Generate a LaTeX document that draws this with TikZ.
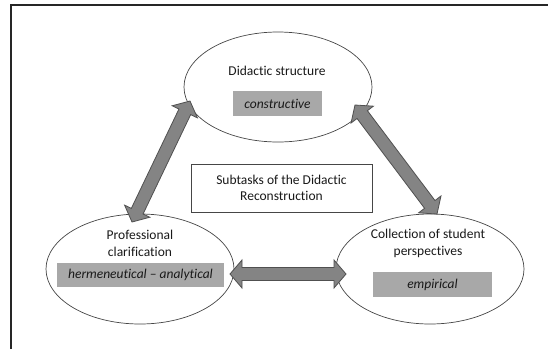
\documentclass[tikz,border=0pt]{standalone}
\usepackage{fontspec}
\setmainfont[Ligatures=NoCommon]{Carlito}
\usetikzlibrary{shapes.geometric,calc}
\definecolor{boxgray}{RGB}{168,168,168}
\definecolor{arrfill}{RGB}{132,132,132}
\definecolor{arrline}{RGB}{80,80,80}
\definecolor{ellline}{RGB}{70,70,70}
\definecolor{txt}{RGB}{25,25,25}
\tikzset{
  ell/.style={ellipse, draw=ellline, line width=0.7pt, minimum width=188pt, minimum height=110pt, inner sep=0pt},
  lbl/.style={text=txt, font=\fontsize{13.5}{17}\selectfont, align=center, inner sep=0pt},
  graybox/.style={fill=boxgray, text=txt, font=\fontsize{13.5}{17}\selectfont\itshape, inner sep=0pt},
  centerbox/.style={draw=ellline, line width=0.7pt, fill=white, minimum width=181pt, minimum height=48pt, text=txt, font=\fontsize{13.5}{16.5}\selectfont, align=center, inner sep=0pt},
  fatarrow/.style={fill=arrfill, draw=arrline, line width=0.8pt, line join=miter},
  frame/.style={draw=black!85, line width=1.3pt}
}
\newcommand{\fatarrowpath}[2]{%
  \filldraw[fatarrow] let \p1=($(#2)-(#1)$), \n1={veclen(\x1,\y1)}, \n2={atan2(\y1,\x1)} in
    ([shift={(#1)},rotate=\n2]0pt,0pt) -- ([shift={(#1)},rotate=\n2]12pt,14pt)
    -- ([shift={(#1)},rotate=\n2]12pt,6.5pt) -- ([shift={(#1)},rotate=\n2]\n1-12pt,6.5pt)
    -- ([shift={(#1)},rotate=\n2]\n1-12pt,14pt) -- ([shift={(#1)},rotate=\n2]\n1+0pt,0pt)
    -- ([shift={(#1)},rotate=\n2]\n1-12pt,-14pt) -- ([shift={(#1)},rotate=\n2]\n1-12pt,-6.5pt)
    -- ([shift={(#1)},rotate=\n2]12pt,-6.5pt) -- ([shift={(#1)},rotate=\n2]12pt,-14pt) -- cycle;}
\begin{document}
\begin{tikzpicture}[x=1pt,y=-1pt]
\useasboundingbox (0,0) rectangle (548,349);
\fill[white] (0,0) rectangle (548,349);
\draw[frame] (11,349) -- (11,5) -- (548,5);
% ellipses
\node[ell] (top) at (278,87) {};
\node[ell] (left) at (140,269) {};
\node[ell] (right) at (430,269) {};
% texts
\node[lbl] (toptxt) at (277,71) {Didactic structure};
\node[graybox, minimum width=89pt, minimum height=25pt] (topbox) at (277.5,103.5) {constructive};
\node[lbl] (lefttxt) at (140,243.5) {Professional\\clarification};
\node[graybox, minimum width=167pt, minimum height=24pt] (leftbox) at (140.5,275) {hermeneutical -- analytical};
\node[lbl] (righttxt) at (428,243.5) {Collection of student\\perspectives};
\node[graybox, minimum width=119pt, minimum height=25pt] (rightbox) at (432.5,284.5) {empirical};
\node[centerbox] (center) at (281.5,188) {Subtasks of the Didactic\\Reconstruction};
% arrow end points
\coordinate (a1) at (190,101);
\coordinate (b1) at (132,222);
\coordinate (a2) at (355,105);
\coordinate (b2) at (437,214);
\coordinate (a3) at (230,274);
\coordinate (b3) at (346,274);
\fatarrowpath{a1}{b1}
\fatarrowpath{a2}{b2}
\fatarrowpath{a3}{b3}
\end{tikzpicture}
\end{document}
